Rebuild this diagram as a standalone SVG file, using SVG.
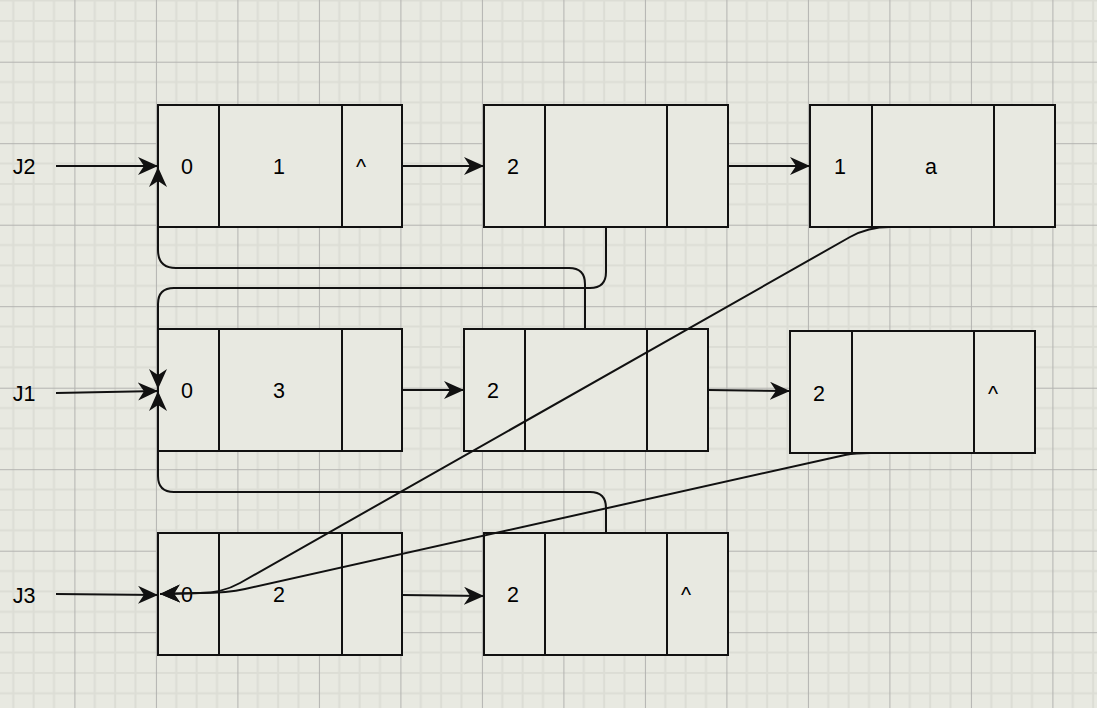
<svg xmlns="http://www.w3.org/2000/svg" width="1097" height="708" viewBox="0 0 1097 708">
<defs>
<pattern id="grid" patternUnits="userSpaceOnUse" x="74.4" y="61.7" width="81.5" height="81.5">
<rect width="81.5" height="81.5" fill="#e8e9e1"/>
<path d="M20.375 0V81.5M40.75 0V81.5M61.125 0V81.5M0 20.375H81.5M0 40.75H81.5M0 61.125H81.5" stroke="#dcddd5" stroke-width="2" fill="none"/>
<path d="M0.5 0V81.5M0 0.5H81.5" stroke="#b3b3b0" stroke-width="1" fill="none"/>
</pattern>
<marker id="arr" markerUnits="userSpaceOnUse" markerWidth="22" markerHeight="20" refX="20" refY="9" orient="auto" viewBox="0 0 22 20">
<path d="M0,0 L20,9 L0,18 L6,9 z" fill="#111"/>
</marker>
<style>
.box{fill:#e8e9e1;stroke:#111;stroke-width:2}
.div{stroke:#111;stroke-width:2}
.t{font-family:"Liberation Sans",Arial,sans-serif;font-size:21.5px;fill:#000;text-anchor:middle}
.c{fill:none;stroke:#111;stroke-width:2}
</style>
</defs>
<rect width="1097" height="708" fill="url(#grid)"/>

<g id="label-J2"><text class="t" x="24" y="174">J2</text></g>
<g id="label-J1"><text class="t" x="24" y="401">J1</text></g>
<g id="label-J3"><text class="t" x="24" y="603">J3</text></g>

<g id="node-1">
<rect class="box" x="158" y="105" width="244" height="122"/>
<path class="div" d="M219 105V227M342 105V227"/>
<text class="t" x="187" y="174">0</text><text class="t" x="279" y="174">1</text><text class="t" x="361" y="174">^</text>
</g>
<g id="node-2">
<rect class="box" x="484" y="105" width="244" height="122"/>
<path class="div" d="M545 105V227M667 105V227"/>
<text class="t" x="513" y="174">2</text>
</g>
<g id="node-3">
<rect class="box" x="810" y="105" width="245" height="122"/>
<path class="div" d="M872 105V227M994 105V227"/>
<text class="t" x="840" y="174">1</text><text class="t" x="931" y="174">a</text>
</g>
<g id="node-4">
<rect class="box" x="158" y="329" width="244" height="122"/>
<path class="div" d="M219 329V451M342 329V451"/>
<text class="t" x="187" y="398">0</text><text class="t" x="279" y="398">3</text>
</g>
<g id="node-5">
<rect class="box" x="464" y="329" width="244" height="122"/>
<path class="div" d="M525 329V451M647 329V451"/>
<text class="t" x="493" y="398">2</text>
</g>
<g id="node-6">
<rect class="box" x="790" y="331" width="245" height="122"/>
<path class="div" d="M852 331V453M974 331V453"/>
<text class="t" x="819" y="401">2</text><text class="t" x="993" y="401">^</text>
</g>
<g id="node-7">
<rect class="box" x="158" y="533" width="244" height="122"/>
<path class="div" d="M219 533V655M342 533V655"/>
<text class="t" x="187" y="602">0</text><text class="t" x="279" y="602">2</text>
</g>
<g id="node-8">
<rect class="box" x="484" y="533" width="244" height="122"/>
<path class="div" d="M545 533V655M667 533V655"/>
<text class="t" x="513" y="602">2</text><text class="t" x="686" y="602">^</text>
</g>

<g id="connectors">
<path class="c" d="M56 166 L158 166" marker-end="url(#arr)"/>
<path class="c" d="M402 166 L484 166" marker-end="url(#arr)"/>
<path class="c" d="M728 166 L810 166" marker-end="url(#arr)"/>
<path class="c" d="M56 393 L158 391" marker-end="url(#arr)"/>
<path class="c" d="M402 390 L464 390" marker-end="url(#arr)"/>
<path class="c" d="M708 390 L790 391" marker-end="url(#arr)"/>
<path class="c" d="M56 594 L158 595" marker-end="url(#arr)"/>
<path class="c" d="M402 595 L484 596" marker-end="url(#arr)"/>
<path class="c" d="M606 227 L606 272 Q606 288 590 288 L174 288 Q158 288 158 304 L158 389" marker-end="url(#arr)"/>
<path class="c" d="M585 329 L585 284 Q585 268 569 268 L176 268 Q158 268 158 250 L158 167" marker-end="url(#arr)"/>
<path class="c" d="M606 533 L606 508 Q606 492 590 492 L174 492 Q158 492 158 476 L158 391" marker-end="url(#arr)"/>
<path class="c" d="M890 227 Q868 227 850 237 L240 583 Q222 593 200 593 L160 594" marker-end="url(#arr)"/>
<path class="c" d="M870 453 Q856 453 845 455 L245 589 Q228 593 200 593 L160 594" marker-end="url(#arr)"/>
</g>
</svg>
